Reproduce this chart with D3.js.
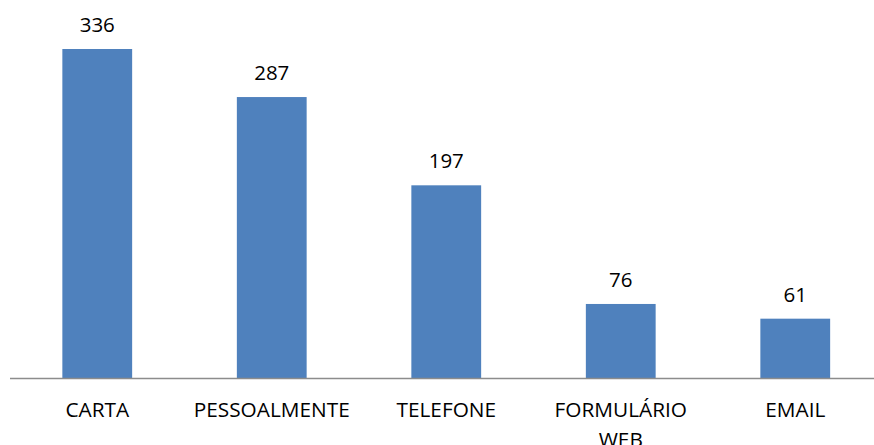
<!DOCTYPE html>
<html lang="pt">
<head>
  <meta charset="UTF-8">
  <title>Canais</title>
  <script src="https://d3js.org/d3.v7.min.js"></script>
  <style>
    body { margin: 0; background: #fff; }
    text { font-family: "Open Sans", "Noto Sans", sans-serif; fill: #000; }
  </style>
</head>
<body>
  <svg id="chart" width="874" height="445"></svg>
  <script>
    // Data
    const categories = ["CARTA", "PESSOALMENTE", "TELEFONE", "FORMULÁRIO WEB", "EMAIL"];
    const values = [336, 287, 197, 76, 61];

    const width = 874, height = 445;
    const baseY = 378.5;

    const svg = d3.select("#chart");

    const x = d3.scaleBand()
      .domain(categories)
      .range([10, 882.5])
      .paddingInner(0.6)
      .paddingOuter(0.3);

    const y = d3.scaleLinear()
      .domain([0, 336])
      .range([baseY, 49]);

    // bars
    svg.selectAll("rect.bar")
      .data(values)
      .join("rect")
      .attr("class", "bar")
      .attr("x", (d, i) => x(categories[i]))
      .attr("y", d => y(d))
      .attr("width", x.bandwidth())
      .attr("height", d => baseY - y(d))
      .attr("fill", "#4f81bd");

    // value labels
    svg.selectAll("text.val")
      .data(values)
      .join("text")
      .attr("class", "val")
      .attr("x", (d, i) => x(categories[i]) + x.bandwidth() / 2)
      .attr("y", d => y(d) - 17)
      .attr("text-anchor", "middle")
      .style("font-size", "20.5px")
      .text(d => d);

    // x axis
    const xAxis = svg.append("g")
      .attr("transform", `translate(0,${baseY})`)
      .call(d3.axisBottom(x).tickSize(0).tickPadding(0));
    xAxis.select(".domain")
      .attr("d", `M10,0H${width}`)
      .attr("stroke", "#8c8c8c")
      .attr("stroke-width", 1.5);
    xAxis.selectAll(".tick text").remove();

    // category labels, wrapping to two lines where needed
    xAxis.selectAll(".tick").append("text")
      .attr("text-anchor", "middle")
      .style("font-size", "20.8px")
      .each(function(d) {
        const words = d === "FORMULÁRIO WEB" ? ["FORMULÁRIO", "WEB"] : [d];
        words.forEach((w, k) => {
          d3.select(this).append("tspan")
            .attr("x", 0)
            .attr("y", 38.5 + k * 30)
            .text(w);
        });
      });
  </script>
</body>
</html>
